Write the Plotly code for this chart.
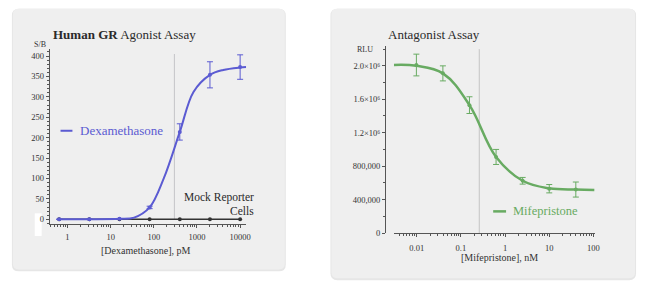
import plotly.graph_objects as go

W, H = 650, 297
def fx(p): return p / W
def fy(p): return 1 - p / H

# ---------------- data ----------------
# Agonist assay (Dexamethasone, pM) -> S/B
dex_conc = [0.64, 3.2, 16, 80, 400, 2000, 10000]
dex_sb = [0, 0, 1, 29, 214, 354, 373]
dex_err = [0, 0, 0, 3, 20, 32, 30]
dex_fit_conc = [0.64, 3.2, 16, 35, 80, 170, 400, 830, 2000, 4060, 10000, 13800]
dex_fit_sb = [0, 0, 1, 4, 29, 100, 214, 312, 354, 366, 372, 373]
mock_conc = [0.64, 3.2, 16, 80, 400, 2000, 10000]
mock_sb = [0, 0, 0, 0, 0, 0, 0]
dex_ec50 = 300
dex_ticks = [1, 10, 100, 1000, 10000]
dex_ticktext = ["1", "10", "100", "1000", "10000"]
sb_ticks = [0, 50, 100, 150, 200, 250, 300, 350, 400]

# Antagonist assay (Mifepristone, nM) -> RLU
mif_conc = [0.0098, 0.039, 0.156, 0.625, 2.5, 10, 40]
mif_rlu = [2.01e6, 1.91e6, 1.53e6, 0.91e6, 0.625e6, 0.53e6, 0.52e6]
mif_err = [0.13e6, 0.09e6, 0.10e6, 0.09e6, 0.04e6, 0.05e6, 0.09e6]
mif_fit_conc = [0.003, 0.0098, 0.039, 0.156, 0.625, 2.5, 10, 40, 105]
mif_fit_rlu = [2.01e6, 2.0e6, 1.91e6, 1.53e6, 0.91e6, 0.625e6, 0.535e6, 0.52e6, 0.515e6]
mif_ic50 = 0.26
mif_ticks = [0.01, 0.1, 1, 10, 100]
mif_ticktext = ["0.01", "0.1", "1", "10", "100"]
rlu_ticks = [0, 4e5, 8e5, 1.2e6, 1.6e6, 2.0e6]
rlu_ticktext = ["0", "400,000", "800,000", "1.2×10⁶", "1.6×10⁶", "2.0×10⁶"]

BLUE = "#5b5bd2"
GREEN = "#68ab62"
SERIF = "Liberation Serif"
TXT = "#333333"
AX = "#555555"

fig = go.Figure()

# Left chart traces
fig.add_trace(go.Scatter(x=mock_conc, y=mock_sb, mode="lines+markers",
                         line=dict(color="#333333", width=1.5),
                         marker=dict(color="#333333", size=4),
                         xaxis="x", yaxis="y", showlegend=False))
fig.add_trace(go.Scatter(x=dex_fit_conc, y=dex_fit_sb, mode="lines",
                         line=dict(color=BLUE, width=2, shape="spline"),
                         xaxis="x", yaxis="y", showlegend=False))
fig.add_trace(go.Scatter(x=dex_conc, y=dex_sb, mode="markers",
                         marker=dict(color=BLUE, size=4),
                         error_y=dict(type="data", array=dex_err, color=BLUE,
                                      thickness=1, width=3),
                         xaxis="x", yaxis="y", showlegend=False))

# Right chart traces
fig.add_trace(go.Scatter(x=mif_fit_conc, y=mif_fit_rlu, mode="lines",
                         line=dict(color=GREEN, width=2.5, shape="spline", smoothing=1.1),
                         xaxis="x2", yaxis="y2", showlegend=False))
fig.add_trace(go.Scatter(x=mif_conc, y=mif_rlu, mode="markers",
                         marker=dict(color=GREEN, size=4),
                         error_y=dict(type="data", array=mif_err, color=GREEN,
                                      thickness=1, width=3),
                         xaxis="x2", yaxis="y2", showlegend=False))

def rrect(x0, y0, x1, y1, r):
    X = lambda p: fx(p)
    Y = lambda p: fy(p)
    return (f"M {X(x0+r)} {Y(y0)} L {X(x1-r)} {Y(y0)} Q {X(x1)} {Y(y0)} {X(x1)} {Y(y0+r)} "
            f"L {X(x1)} {Y(y1-r)} Q {X(x1)} {Y(y1)} {X(x1-r)} {Y(y1)} "
            f"L {X(x0+r)} {Y(y1)} Q {X(x0)} {Y(y1)} {X(x0)} {Y(y1-r)} "
            f"L {X(x0)} {Y(y0+r)} Q {X(x0)} {Y(y0)} {X(x0+r)} {Y(y0)} Z")

shapes = []
for (x0, y0, x1, y1) in [(13, 9, 287, 274), (334, 9, 640, 283)]:
    shapes.append(dict(type="path", path=rrect(x0 - 1, y0, x1 + 1, y1 + 2, 7), xref="paper", yref="paper",
                       fillcolor="#e6e6e6", line=dict(width=0), layer="below"))
    shapes.append(dict(type="path", path=rrect(x0, y0, x1, y1, 6), xref="paper", yref="paper",
                       fillcolor="#efefef", line=dict(width=0), layer="below"))
# white artifact box
shapes.append(dict(type="rect", xref="paper", yref="paper", x0=fx(35), x1=fx(42), y0=fy(240), y1=fy(217),
                   fillcolor="white", line=dict(width=0), layer="below"))
# EC50 / IC50 lines
shapes.append(dict(type="line", xref="x", yref="y", x0=dex_ec50, x1=dex_ec50, y0=0, y1=405,
                   line=dict(color="#c4c4c8", width=1), layer="below"))
shapes.append(dict(type="line", xref="x2", yref="y2", x0=mif_ic50, x1=mif_ic50, y0=0, y1=2.2e6,
                   line=dict(color="#c4c4c4", width=1), layer="below"))
# legend dashes
shapes.append(dict(type="line", xref="paper", yref="paper", x0=fx(61), x1=fx(73), y0=fy(133), y1=fy(133),
                   line=dict(color=BLUE, width=2)))
shapes.append(dict(type="line", xref="paper", yref="paper", x0=fx(497), x1=fx(510), y0=fy(215), y1=fy(215),
                   line=dict(color=GREEN, width=2.5)))

def ann(text, x, y, size, color=TXT, xanchor="left"):
    return dict(text=text, x=fx(x), y=fy(y), xref="paper", yref="paper", showarrow=False,
                xanchor=xanchor, yanchor="middle", font=dict(family=SERIF, size=size, color=color))

annotations = [
    ann("<b>Human GR</b> Agonist Assay", 51, 35, 13, "#2a2a2a"),
    ann("Antagonist Assay", 389, 35, 13, "#2a2a2a"),
    ann("S/B", 40, 45, 8, xanchor="center"),
    ann("RLU", 368, 50, 8, xanchor="center"),
    ann("Dexamethasone", 79, 133, 13, BLUE),
    ann("Mifepristone", 515, 215, 12.5, GREEN),
    ann("Mock Reporter", 258, 201, 11.5, "#2a2a2a", xanchor="right"),
    ann("Cells", 258, 215, 11.5, "#2a2a2a", xanchor="right"),
    ann("[Dexamethasone], pM", 147, 255, 10, xanchor="center"),
    ann("[Mifepristone], nM", 503, 262, 10, xanchor="center"),
]

tickfont = dict(family=SERIF, size=8.5, color=TXT)
common = dict(showgrid=False, zeroline=False, showline=True, linecolor=AX, linewidth=1,
              ticks="outside", ticklen=3, tickcolor=AX, tickfont=tickfont)

fig.update_layout(
    width=W, height=H, margin=dict(l=0, r=0, t=0, b=0),
    paper_bgcolor="white", plot_bgcolor="rgba(0,0,0,0)",
    shapes=shapes, annotations=annotations,
    xaxis=dict(domain=[fx(50), fx(248)], type="log", range=[-0.414, 4.138], anchor="y",
               tickvals=dex_ticks, ticktext=dex_ticktext, ticklabelstandoff=2,
               minor=dict(ticks="outside", ticklen=2, tickcolor=AX, dtick="D1"), **common),
    yaxis=dict(domain=[fy(228), fy(50)], range=[-12, 416.9], anchor="x",
               tickvals=sb_ticks, minor=dict(ticks="outside", ticklen=2, tickcolor=AX, dtick=10), **common),
    xaxis2=dict(domain=[fx(397), fx(600)], type="log", range=[-2.517, 2.045], anchor="y2",
                tickvals=mif_ticks, ticktext=mif_ticktext, ticklabelstandoff=4,
                minor=dict(ticks="outside", ticklen=2, tickcolor=AX, dtick="D1"), **common),
    yaxis2=dict(domain=[fy(237), fy(47)], range=[0, 2.235e6], anchor="free", position=fx(388),
                tickvals=rlu_ticks, ticktext=rlu_ticktext,
                minor=dict(ticks="outside", ticklen=2, tickcolor=AX, dtick=2e5), **common),
)

fig.write_html("out.html")
